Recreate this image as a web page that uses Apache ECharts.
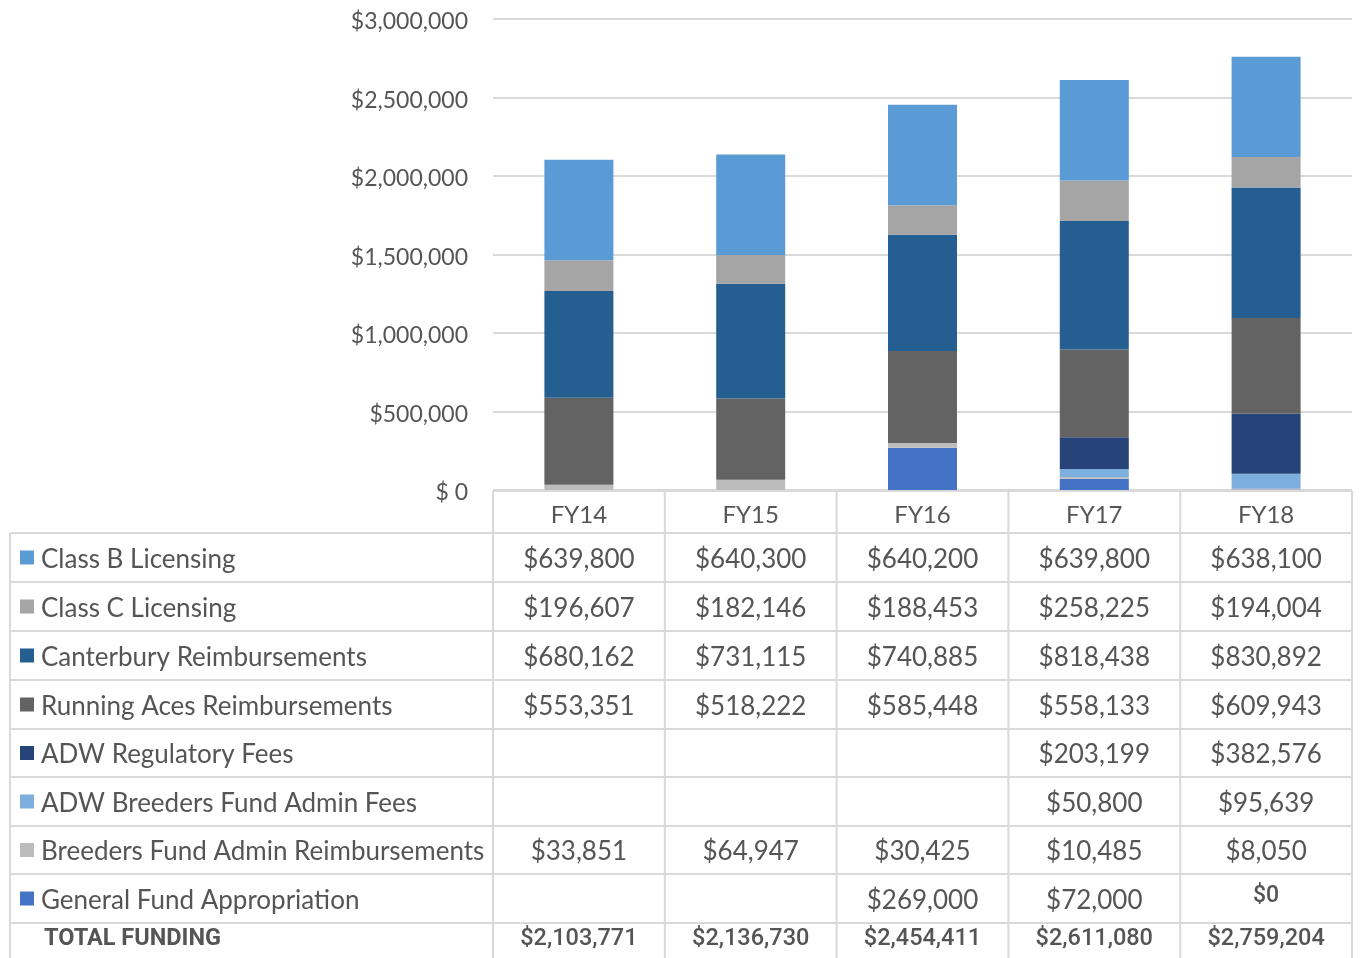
<!DOCTYPE html>
<html>
<head>
<meta charset="utf-8">
<script src="https://cdn.jsdelivr.net/npm/echarts@6/dist/echarts.min.js"></script>
<style>
  html, body { margin: 0; padding: 0; background: #fff; }
  #chart { width: 1361px; height: 958px; }
</style>
</head>
<body>
<div id="chart"></div>
<script>
// data (FY14 .. FY18)
var years = ['FY14', 'FY15', 'FY16', 'FY17', 'FY18'];
var classB = [639800, 640300, 640200, 639800, 638100];
var classC = [196607, 182146, 188453, 258225, 194004];
var canterbury = [680162, 731115, 740885, 818438, 830892];
var runningAces = [553351, 518222, 585448, 558133, 609943];
var adwRegulatory = [null, null, null, 203199, 382576];
var adwBreeders = [null, null, null, 50800, 95639];
var breedersFund = [33851, 64947, 30425, 10485, 8050];
var generalFund = [null, null, 269000, 72000, 0];
var totals = [2103771, 2136730, 2454411, 2611080, 2759204];
var yTicks = [0, 500000, 1000000, 1500000, 2000000, 2500000, 3000000];

// table rows, top to bottom (stack is drawn in reverse)
var rows = [
  { name: 'Class B Licensing', data: classB, color: '#5b9bd5' },
  { name: 'Class C Licensing', data: classC, color: '#a5a5a5' },
  { name: 'Canterbury Reimbursements', data: canterbury, color: '#255e91' },
  { name: 'Running Aces Reimbursements', data: runningAces, color: '#636363' },
  { name: 'ADW Regulatory Fees', data: adwRegulatory, color: '#264478' },
  { name: 'ADW Breeders Fund Admin Fees', data: adwBreeders, color: '#7cafdd' },
  { name: 'Breeders Fund Admin Reimbursements', data: breedersFund, color: '#bcbcbc' },
  { name: 'General Fund Appropriation', data: generalFund, color: '#4472c4' }
];

var gridLeft = 493, gridRight = 1352, axisY = 490;
var colW = (gridRight - gridLeft) / years.length;
var rowLines = [533, 582, 631, 680, 729, 777, 826, 874, 923];
var tableBottom = 960;
var lineColor = '#d9d9d9';
var textColor = '#555555';
var font = 'Lato, "Open Sans", sans-serif';

function money(v) {
  return '$' + String(v).replace(/\B(?=(\d{3})+(?!\d))/g, ',');
}

var series = rows.slice().reverse().map(function (r) {
  return {
    name: r.name,
    type: 'bar',
    stack: 'total',
    barWidth: 69,
    data: r.data,
    itemStyle: { color: r.color }
  };
});

// table drawn with graphic elements
var graphics = [];
function hline(y, x1, x2) {
  graphics.push({ type: 'line', shape: { x1: x1, y1: y, x2: x2, y2: y }, style: { stroke: lineColor, lineWidth: 2 }, z: 10 });
}
function vline(x, y1, y2) {
  graphics.push({ type: 'line', shape: { x1: x, y1: y1, x2: x, y2: y2 }, style: { stroke: lineColor, lineWidth: 2 }, z: 10 });
}
function text(t, x, y, align, f, size, weight) {
  graphics.push({
    type: 'text', x: x, y: y, z: 11,
    style: { text: t, fill: textColor, font: (weight || 'normal') + ' ' + size + 'px ' + f, textAlign: align, textVerticalAlign: 'middle' }
  });
}

hline(axisY + 1, gridLeft, gridRight);
rowLines.forEach(function (y) { hline(y, 10, gridRight); });
vline(10, rowLines[0], tableBottom);
for (var c = 0; c <= years.length; c++) {
  vline(gridLeft + c * colW, axisY + 1, tableBottom);
}

rows.forEach(function (r, i) {
  var cy = (rowLines[i] + rowLines[i + 1]) / 2 + 2;
  graphics.push({ type: 'rect', shape: { x: 20, y: cy - 9, width: 14, height: 14 }, style: { fill: r.color }, z: 11 });
  text(r.name, 41, cy, 'left', font, 26);
  r.data.forEach(function (v, j) {
    if (v === null) return;
    var cx = gridLeft + (j + 0.5) * colW;
    if (v === 0) {
      text(money(v), cx, cy - 4, 'center', 'Roboto, sans-serif', 23, '500');
    } else {
      text(money(v), cx, cy, 'center', font, 26);
    }
  });
});

var totalY = 939;
text('TOTAL FUNDING', 44, totalY, 'left', 'Roboto, sans-serif', 23.5, 'bold');
totals.forEach(function (v, j) {
  text(money(v), gridLeft + (j + 0.5) * colW, totalY, 'center', 'Roboto, sans-serif', 23.5, '500');
});

var myChart = echarts.init(document.getElementById('chart'));
var option = {
  animation: false,
  grid: {
    left: gridLeft,
    right: 1361 - gridRight,
    top: 19,
    bottom: 958 - axisY
  },
  xAxis: {
    type: 'category',
    data: years,
    axisLine: { show: false },
    axisTick: { show: false },
    axisLabel: {
      color: textColor,
      fontFamily: font,
      fontSize: 24,
      margin: 13
    }
  },
  yAxis: {
    type: 'value',
    min: yTicks[0],
    max: yTicks[yTicks.length - 1],
    interval: yTicks[1] - yTicks[0],
    axisLine: { show: false },
    axisTick: { show: false },
    axisLabel: {
      margin: 25,
      formatter: function (v) { return '{a|' + (v === 0 ? '$ 0' : money(v)) + '}'; },
      rich: {
        a: {
          color: textColor,
          fontFamily: font,
          fontSize: 23,
          padding: [6, 0, 0, 0]
        }
      }
    },
    splitLine: { lineStyle: { color: lineColor, width: 2 } }
  },
  series: series,
  graphic: graphics
};
myChart.setOption(option);
</script>
</body>
</html>
